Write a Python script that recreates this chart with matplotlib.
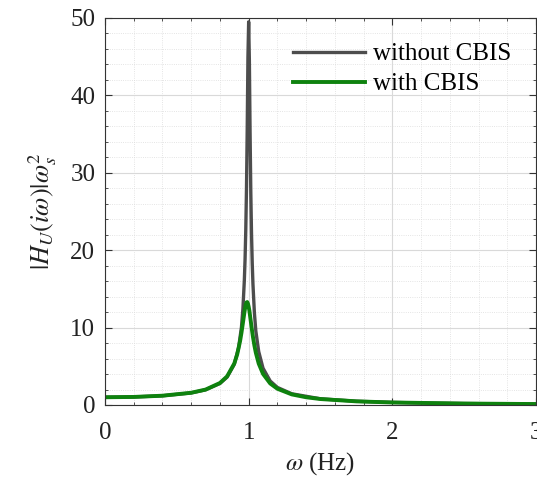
import numpy as np
import matplotlib
matplotlib.use('Agg')
import matplotlib.pyplot as plt
from matplotlib.ticker import MultipleLocator

plt.rcParams['font.family'] = ['Liberation Serif', 'DejaVu Serif']
plt.rcParams['mathtext.fontset'] = 'stix'

# frequency points (Hz) and amplitudes
freq_without = [0, 0.2, 0.4, 0.6, 0.7, 0.8, 0.85, 0.9, 0.93, 0.95, 0.96, 0.97,
                0.975, 0.98, 0.985, 0.99, 0.995, 1.0, 1.005, 1.01, 1.015, 1.02,
                1.025, 1.03, 1.04, 1.05, 1.07, 1.1, 1.15, 1.2, 1.3, 1.5, 1.75,
                2.0, 2.25, 2.5, 2.75, 3.0]
amp_without = [1.0, 1.04, 1.19, 1.56, 1.96, 2.78, 3.6, 5.26, 7.4, 10.07, 12.4, 16.1,
               18.8, 22.6, 28.0, 35.6, 44.9, 49.5, 44.5, 35.1, 27.5, 22.1,
               18.3, 15.6, 11.9, 9.56, 6.9, 4.76, 3.1, 2.27, 1.45, 0.8, 0.485,
               0.333, 0.246, 0.19, 0.152, 0.125]

freq_with = [0, 0.2, 0.4, 0.6, 0.7, 0.8, 0.85, 0.9, 0.92, 0.94, 0.95, 0.96, 0.97,
             0.975, 0.98, 0.985, 0.99, 0.995, 1.0, 1.005, 1.01, 1.02, 1.03, 1.04,
             1.05, 1.07, 1.1, 1.15, 1.2, 1.3, 1.4, 1.5, 1.75, 2.0, 2.5, 3.0]
amp_with = [1.0, 1.04, 1.2, 1.58, 1.99, 2.84, 3.7, 5.36, 6.52, 8.22, 9.33, 10.6, 11.9,
            12.5, 13.0, 13.25, 13.3, 13.1, 12.7, 12.2, 11.5, 10.1, 8.8, 7.68,
            6.75, 5.35, 4.02, 2.78, 2.1, 1.37, 1.0, 0.77, 0.47, 0.324, 0.186, 0.122]

fig = plt.figure(figsize=(5.37, 4.79), dpi=100)
ax = fig.add_axes([0.1955, 0.1545, 0.8026, 0.808])

ax.plot(freq_without, amp_without, color='#4d4d4d', lw=2.4, label='without CBIS')
ax.plot(freq_with, amp_with, color='#0e820e', lw=2.8, label='with CBIS')

ax.set_xlim(0, 3)
ax.set_ylim(0, 50)
ax.xaxis.set_major_locator(MultipleLocator(1))
ax.xaxis.set_minor_locator(MultipleLocator(0.2))
ax.yaxis.set_major_locator(MultipleLocator(10))
ax.yaxis.set_minor_locator(MultipleLocator(2))

ax.grid(which='major', color='#d9d9d9', lw=0.8, ls='-')
ax.grid(which='minor', color='#dcdcdc', lw=0.6, ls=':')
ax.set_axisbelow(True)

ax.tick_params(which='both', direction='in', top=True, right=True,
               labelsize=18, color='#333333', labelcolor='#222222')
ax.tick_params(which='major', length=5)
ax.tick_params(which='minor', length=2.5)
ax.tick_params(axis='x', pad=12)
ax.tick_params(axis='y', pad=7)
for s in ax.spines.values():
    s.set_color('#333333')
    s.set_linewidth(0.8)

ax.set_xlabel(r'$\omega$ (Hz)', fontsize=18, labelpad=5, color='#222222')
ax.set_ylabel(r'$|H_U(i\omega)|\omega_s^2$', fontsize=19, labelpad=8, color='#222222')

ax.legend(loc='upper right', frameon=False, fontsize=18, handlelength=2.9,
          borderaxespad=0.6, labelspacing=0.3, handletextpad=0.3)

fig.savefig('out.png', dpi=100)
